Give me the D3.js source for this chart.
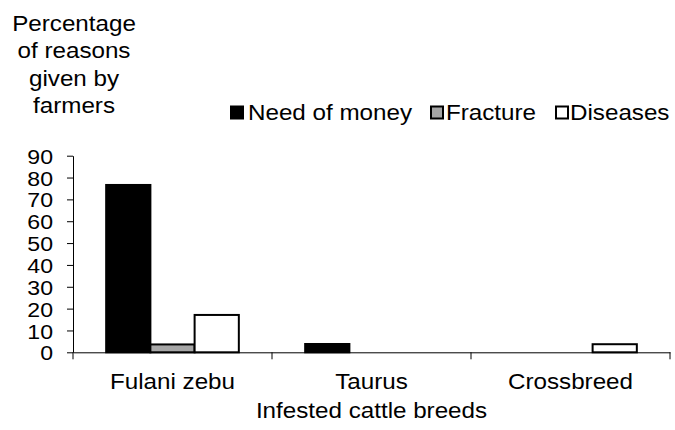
<!DOCTYPE html>
<html>
<head>
<meta charset="utf-8">
<script src="https://cdn.jsdelivr.net/npm/d3@7"></script>
<style>
  html, body { margin: 0; padding: 0; background: #fff; }
  svg { display: block; font-family: "Liberation Sans", Arial, sans-serif; }
</style>
</head>
<body>
<svg id="chart" width="675" height="430"></svg>
<script>
const categories = ["Fulani zebu", "Taurus", "Crossbreed"];
const seriesNames = ["Need of money", "Fracture", "Diseases"];
const needOfMoney = [76.6, 3.8, 0];
const fracture = [3.6, 0, 0];
const diseases = [17.1, 0, 3.7];
const yTicks = [0, 10, 20, 30, 40, 50, 60, 70, 80, 90];
const yTitleLines = ["Percentage", "of reasons", "given by", "farmers"];
const xTitle = "Infested cattle breeds";

const seriesValues = [needOfMoney, fracture, diseases];
const fills = ["#000000", "#a6a6a6", "#ffffff"];
const SX = 1.1; // horizontal text stretch of the reference
const FS = 22;

const svg = d3.select("#chart");
const plotL = 73, plotR = 670, plotT = 155.7, plotB = 352.3;

const x = d3.scaleBand().domain(categories).range([plotL, plotR]).paddingInner(0).paddingOuter(0);
const xSub = d3.scaleBand().domain(seriesNames).range([0, x.bandwidth()]).paddingInner(0).paddingOuter(0.75);
const y = d3.scaleLinear().domain([0, 90]).range([plotB, plotT]);

function stretchText(sel, px, py, anchor, fs, sx) {
  sel.attr("transform", `translate(${px},${py}) scale(${sx || SX},1)`)
     .attr("x", 0).attr("y", 0)
     .attr("text-anchor", anchor)
     .style("font-size", (fs || FS) + "px")
     .attr("fill", "#000");
}

// Bars
const data = [];
categories.forEach((c, ci) => {
  seriesNames.forEach((s, si) => {
    const v = seriesValues[si][ci];
    if (v > 0) data.push({ c, s, v, si });
  });
});
svg.append("g").selectAll("rect").data(data).join("rect")
  .attr("x", d => x(d.c) + xSub(d.s))
  .attr("width", xSub.bandwidth())
  .attr("y", d => y(d.v))
  .attr("height", d => y(0) - y(d.v))
  .attr("fill", d => fills[d.si])
  .attr("stroke", "#000")
  .attr("stroke-width", 2);

// Y axis
const yAxis = svg.append("g").attr("transform", `translate(${plotL},0)`)
  .call(d3.axisLeft(y).tickValues(yTicks).tickSize(6).tickSizeOuter(0).tickPadding(14));
yAxis.select(".domain").attr("stroke", "#000").attr("stroke-width", 1);
yAxis.selectAll(".tick line").attr("stroke", "#000");
yAxis.selectAll(".tick text").each(function() {
  d3.select(this)
    .attr("x", -20 / SX)
    .attr("transform", `scale(${SX},1)`)
    .attr("dy", "0.36em")
    .style("font-size", "21px")
    .style("font-family", "Liberation Sans, Arial, sans-serif")
    .attr("fill", "#000");
});

// X axis
const xAxis = svg.append("g").attr("transform", `translate(0,${plotB})`)
  .call(d3.axisBottom(x).tickSize(0).tickSizeOuter(0).tickPadding(0));
xAxis.select(".domain").attr("stroke", "#000").attr("stroke-width", 1);
xAxis.selectAll(".tick text").each(function(d) {
  d3.select(this)
    .attr("x", 0).attr("y", 0).attr("dy", null)
    .attr("transform", `translate(0,${389 - plotB}) scale(${SX},1)`)
    .style("font-size", FS + "px")
    .style("font-family", "Liberation Sans, Arial, sans-serif")
    .attr("fill", "#000");
});
// category boundary ticks
const boundaries = categories.map(c => x(c)).concat([x.range()[1]]);
xAxis.selectAll(".bound").data(boundaries).join("line")
  .attr("class", "bound")
  .attr("x1", d => d).attr("x2", d => d)
  .attr("y1", 0).attr("y2", 7)
  .attr("stroke", "#000");

// X title
svg.append("text").text(xTitle).call(stretchText, (plotL + plotR) / 2, 418, "middle");

// Y title (multi-line)
svg.append("g").selectAll("text").data(yTitleLines).join("text")
  .text(d => d)
  .each(function(d, i) { d3.select(this).call(stretchText, 74, 31 + i * 27.4, "middle"); });

// Legend
const legendItems = [
  { name: seriesNames[0], sq: 231, tx: 248 },
  { name: seriesNames[1], sq: 431, tx: 446 },
  { name: seriesNames[2], sq: 556, tx: 570 }
];
const lg = svg.append("g");
legendItems.forEach((it, i) => {
  lg.append("rect").attr("x", it.sq).attr("y", 106.5).attr("width", 12).attr("height", 12)
    .attr("fill", fills[i]).attr("stroke", "#000").attr("stroke-width", 2);
  lg.append("text").text(it.name).call(stretchText, it.tx, 120, "start");
});
</script>
</body>
</html>
